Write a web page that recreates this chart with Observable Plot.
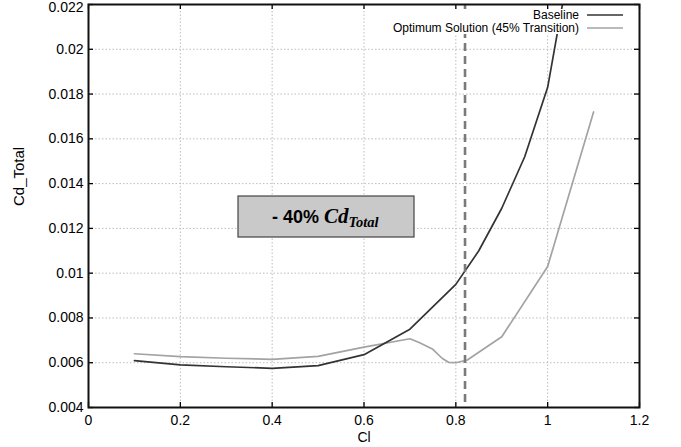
<!DOCTYPE html>
<html><head><meta charset="utf-8">
<script src="https://cdn.jsdelivr.net/npm/d3@7"></script>
<script src="https://cdn.jsdelivr.net/npm/@observablehq/plot@0.6"></script>
<style>body{margin:0;background:#fff}svg{display:block}</style>
</head><body><div id="chart"></div>
<script>
// ---- data ----
const baselineCl = [0.1, 0.2, 0.3, 0.4, 0.5, 0.6, 0.7, 0.8, 0.85, 0.9, 0.95, 1.0, 1.04];
const baselineCd = [0.00609, 0.0059, 0.00582, 0.00575, 0.00587, 0.00636, 0.0075, 0.0095, 0.0110, 0.0129, 0.0152, 0.0183, 0.0229];
const optimumCl = [0.1, 0.2, 0.3, 0.4, 0.5, 0.6, 0.7, 0.72, 0.75, 0.77, 0.785, 0.8, 0.825, 0.9, 1.0, 1.1];
const optimumCd = [0.0064, 0.00627, 0.0062, 0.00615, 0.00628, 0.0067, 0.00707, 0.0069, 0.0066, 0.0062, 0.00601, 0.006, 0.00612, 0.00716, 0.0103, 0.0172];
const designCl = [0.82];
const xTicks = [0, 0.2, 0.4, 0.6, 0.8, 1.0, 1.2];
const yTicks = [0.004, 0.006, 0.008, 0.01, 0.012, 0.014, 0.016, 0.018, 0.02, 0.022];
const seriesNames = ["Baseline", "Optimum Solution (45% Transition)"];
const annotation = ["- 40% ", "Cd", "Total"];
const xLabel = "Cl";
const yLabel = "Cd_Total";

// ---- build ----
const baseline = baselineCl.map((x, i) => ({x, y: baselineCd[i]}));
const optimum = optimumCl.map((x, i) => ({x, y: optimumCd[i]}));
const fmt = d => String(+d.toFixed(3));
const yTop = yTicks[yTicks.length - 1];

const W = 681, H = 447, mL = 88, mR = 42, mT = 4, mB = 40;
const innerH = H - mT - mB, innerW = W - mL - mR, tick = 5;
const darkC = "#333", lightC = "#a3a3a3";

const plot = Plot.plot({
  width: W, height: H,
  marginLeft: mL, marginRight: mR, marginTop: mT, marginBottom: mB,
  x: {domain: [0, 1.2]},
  y: {domain: [0.004, 0.022]},
  style: {fontFamily: "'Liberation Sans', Arial, sans-serif", fontSize: "14px", color: "#000", background: "#fff"},
  marks: [
    Plot.gridX(xTicks, {stroke: "#bdbdbd", strokeOpacity: 1, strokeDasharray: "1.5,2"}),
    Plot.gridY(yTicks, {stroke: "#bdbdbd", strokeOpacity: 1, strokeDasharray: "1.5,2"}),
    Plot.line(optimum, {x: "x", y: "y", stroke: lightC, strokeWidth: 1.7, clip: true}),
    Plot.line(baseline, {x: "x", y: "y", stroke: darkC, strokeWidth: 1.7, clip: true}),
    Plot.ruleX(designCl, {stroke: "#7a7a7a", strokeWidth: 2.6, strokeDasharray: "8,5"}),
    Plot.axisX(xTicks, {tickSize: 0, tickPadding: 8, label: null, tickFormat: fmt}),
    Plot.axisY(yTicks.filter(d => d !== yTop), {tickSize: 0, tickPadding: 5, label: null, tickFormat: fmt}),
    Plot.axisY([yTop], {tickSize: 0, tickPadding: 5, label: null, tickFormat: fmt, dy: 3}),
    Plot.ruleX(xTicks, {stroke: "#000", strokeWidth: 1.3, insetBottom: innerH - tick}),
    Plot.ruleX(xTicks, {stroke: "#000", strokeWidth: 1.3, insetTop: innerH - tick}),
    Plot.ruleY(yTicks, {stroke: "#000", strokeWidth: 1.3, insetRight: innerW - tick}),
    Plot.ruleY(yTicks, {stroke: "#000", strokeWidth: 1.3, insetLeft: innerW - tick}),
    Plot.frame({stroke: "#111", strokeWidth: 2}),
    Plot.text([xLabel], {frameAnchor: "bottom", dy: 34, fontSize: 14}),
    Plot.text([yLabel], {frameAnchor: "left", rotate: -90, dx: -69, fontSize: 15})
  ]
});
document.getElementById("chart").appendChild(plot);

// ---- legend & annotation ----
const svg = d3.select(plot);
const before = plot.querySelector("g[aria-label='x-axis tick label']");
const leg = before ? svg.insert("g", () => before) : svg.append("g");
leg.append("rect").attr("x", 388).attr("y", 9).attr("width", 246).attr("height", 25).attr("fill", "#fff");
const legRight = 579, rows = [15, 28];
seriesNames.forEach((name, i) => {
  leg.append("text").attr("x", legRight).attr("y", rows[i]).attr("dy", "0.35em")
    .attr("text-anchor", "end").attr("font-size", 12).attr("fill", "#000")
    .attr("font-family", "'Liberation Sans', Arial, sans-serif").text(name);
  leg.append("line").attr("x1", 587).attr("x2", 623).attr("y1", rows[i]).attr("y2", rows[i])
    .attr("stroke", i === 0 ? darkC : lightC).attr("stroke-width", 1.6);
});

const ann = svg.append("g");
ann.append("rect").attr("x", 238).attr("y", 196).attr("width", 176).attr("height", 41)
  .attr("fill", "#c9c9c9").attr("stroke", "#444").attr("stroke-width", 1.2);
const t = ann.append("text").attr("x", 272).attr("y", 223).attr("text-anchor", "start")
  .attr("font-weight", "bold").attr("fill", "#000");
t.append("tspan").attr("font-family", "'Liberation Sans', Arial, sans-serif").attr("font-size", 18)
  .attr("xml:space", "preserve").style("white-space", "pre").text(annotation[0]);
t.append("tspan").attr("font-family", "'Liberation Serif', 'Times New Roman', serif")
  .attr("font-style", "italic").attr("font-size", 21).text(annotation[1]);
t.append("tspan").attr("font-family", "'Liberation Serif', 'Times New Roman', serif")
  .attr("font-style", "italic").attr("font-size", 14.5).attr("dy", 4).text(annotation[2]);
</script>
</body></html>
